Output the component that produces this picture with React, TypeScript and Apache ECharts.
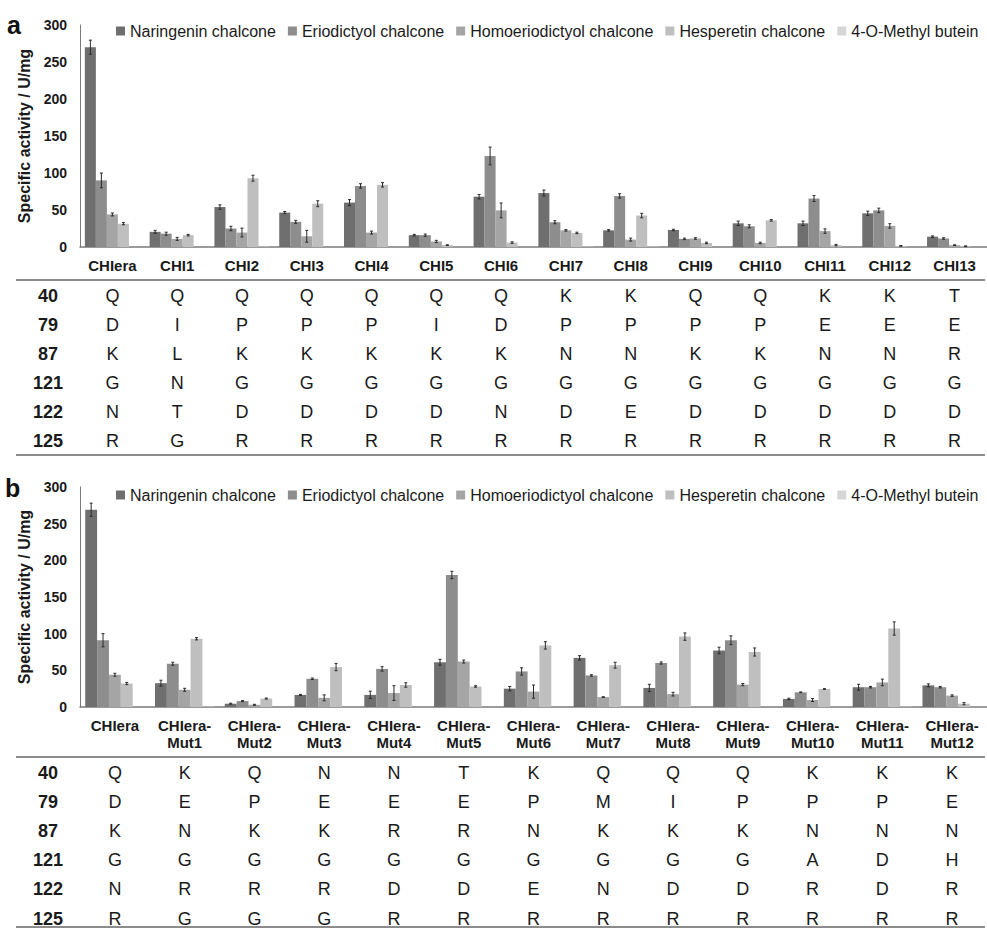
import React, { useEffect, useRef } from "react";
import * as echarts from "echarts";

const FONT = "'Liberation Sans', Arial, Helvetica, sans-serif";

const seriesNames = [
  "Naringenin chalcone",
  "Eriodictyol chalcone",
  "Homoeriodictyol chalcone",
  "Hesperetin chalcone",
  "4-O-Methyl butein",
];
const seriesColors = ["#6f6f6f", "#8d8d8d", "#a5a5a5", "#bfbfbf", "#d6d6d6"];

// ---------- Panel a ----------
const aCategories = ["CHIera", "CHI1", "CHI2", "CHI3", "CHI4", "CHI5", "CHI6", "CHI7", "CHI8", "CHI9", "CHI10", "CHI11", "CHI12", "CHI13"];
const aNaringenin = [270, 20.5, 54, 46.5, 60, 16, 68, 73, 22.5, 23, 32, 32, 45.5, 14];
const aEriodictyol = [90, 18, 25, 34, 82.5, 16, 123, 33.5, 69, 11, 28, 65.5, 49.5, 11.5];
const aHomoeriodictyol = [44, 11, 19.5, 14.5, 19.5, 7.5, 49.5, 22.5, 10, 11.5, 5.5, 21.5, 28.5, 2.5];
const aHesperetin = [31.5, 16, 93, 58.5, 84, 2.5, 6, 19, 42.5, 5.5, 36, 2.5, 1.5, 1];
const aMethylButein = [0, 0, 0.5, 0, 0, 0, 0, 0.5, 0.5, 0, 0, 0, 0, 0];
const aNaringeninErr = [9.5, 2, 3, 1.5, 4, 1, 3, 4, 1, 1, 3, 3, 3, 1];
const aEriodictyolErr = [10, 2, 3, 2, 3, 1.5, 12, 2, 3, 1, 2, 4, 3, 1];
const aHomoeriodictyolErr = [2, 2, 6, 8, 2, 1.5, 10, 1, 2, 1, 1, 3, 3, 0.5];
const aHesperetinErr = [1.5, 1, 4, 4, 3, 0.5, 1, 1, 3, 1, 1, 1, 0.5, 0.5];
const aMethylButeinErr = [0, 0, 0, 0, 0, 0, 0, 0, 0, 0, 0, 0, 0, 0];

const aPositions = ["40", "79", "87", "121", "122", "125"];
const aRes40 = ["Q", "Q", "Q", "Q", "Q", "Q", "Q", "K", "K", "Q", "Q", "K", "K", "T"];
const aRes79 = ["D", "I", "P", "P", "P", "I", "D", "P", "P", "P", "P", "E", "E", "E"];
const aRes87 = ["K", "L", "K", "K", "K", "K", "K", "N", "N", "K", "K", "N", "N", "R"];
const aRes121 = ["G", "N", "G", "G", "G", "G", "G", "G", "G", "G", "G", "G", "G", "G"];
const aRes122 = ["N", "T", "D", "D", "D", "D", "N", "D", "E", "D", "D", "D", "D", "D"];
const aRes125 = ["R", "G", "R", "R", "R", "R", "R", "R", "R", "R", "R", "R", "R", "R"];

// ---------- Panel b ----------
const bCategories = ["CHIera", "CHIera-\nMut1", "CHIera-\nMut2", "CHIera-\nMut3", "CHIera-\nMut4", "CHIera-\nMut5", "CHIera-\nMut6", "CHIera-\nMut7", "CHIera-\nMut8", "CHIera-\nMut9", "CHIera-\nMut10", "CHIera-\nMut11", "CHIera-\nMut12"];
const bNaringenin = [269, 32.5, 4.5, 16.5, 16.5, 61, 25, 67, 26, 77, 11, 27, 29.5];
const bEriodictyol = [91, 59, 8, 38.5, 52, 180, 48.5, 43, 60, 91, 20, 27, 27];
const bHomoeriodictyol = [44, 23.5, 3, 12.5, 19, 62, 21, 13.5, 17.5, 30.5, 9.5, 33.5, 15.5];
const bHesperetin = [32, 93, 11.5, 54.5, 30, 28, 84, 57, 96, 75, 24.5, 107, 4.5];
const bMethylButein = [0, 0.5, 0, 0, 0, 0, 0, 0, 0, 0, 0, 0.5, 0];
const bNaringeninErr = [9, 4, 0.7, 0.7, 5, 4, 3, 3, 5, 4.5, 1, 4, 2];
const bEriodictyolErr = [9, 2, 0.7, 1, 3, 5, 5, 1, 1.5, 6, 0.5, 1, 1];
const bHomoeriodictyolErr = [2, 2, 0.7, 4, 10, 2, 9, 0.5, 2.5, 1.5, 2, 4.5, 1];
const bHesperetinErr = [1.5, 1.5, 0.7, 5, 3, 1, 5, 4, 5, 5.5, 0.5, 9, 1.5];
const bMethylButeinErr = [0, 0, 0, 0, 0, 0, 0, 0, 0, 0, 0, 0, 0];

const bPositions = ["40", "79", "87", "121", "122", "125"];
const bRes40 = ["Q", "K", "Q", "N", "N", "T", "K", "Q", "Q", "Q", "K", "K", "K"];
const bRes79 = ["D", "E", "P", "E", "E", "E", "P", "M", "I", "P", "P", "P", "E"];
const bRes87 = ["K", "N", "K", "K", "R", "R", "N", "K", "K", "K", "N", "N", "N"];
const bRes121 = ["G", "G", "G", "G", "G", "G", "G", "G", "G", "G", "A", "D", "H"];
const bRes122 = ["N", "R", "R", "R", "D", "D", "E", "N", "D", "D", "R", "D", "R"];
const bRes125 = ["R", "G", "G", "G", "R", "R", "R", "R", "R", "R", "R", "R", "R"];

const yTicks = [0, 50, 100, 150, 200, 250, 300];

// ---------- layout ----------
const GRID_LEFT = 80;
const GRID_WIDTH = 907;
const A_TOP = 25, A_H = 222;
const B_TOP = 487, B_H = 220;
const ROW_STEP = 29.1;
const A_ROW0 = 295.5;
const B_ROW0 = 773;
const CAT_GAP = 0.15;

function App() {
  const ref = useRef<HTMLDivElement>(null);

  useEffect(() => {
    if (!ref.current) return;
    const chart = echarts.init(ref.current, null, { renderer: "svg" });

    const aVals = [aNaringenin, aEriodictyol, aHomoeriodictyol, aHesperetin, aMethylButein];
    const aErrs = [aNaringeninErr, aEriodictyolErr, aHomoeriodictyolErr, aHesperetinErr, aMethylButeinErr];
    const bVals = [bNaringenin, bEriodictyol, bHomoeriodictyol, bHesperetin, bMethylButein];
    const bErrs = [bNaringeninErr, bEriodictyolErr, bHomoeriodictyolErr, bHesperetinErr, bMethylButeinErr];
    const aRows = [aRes40, aRes79, aRes87, aRes121, aRes122, aRes125];
    const bRows = [bRes40, bRes79, bRes87, bRes121, bRes122, bRes125];

    const errData = (vals: number[][], errs: number[][]) => {
      const out: number[][] = [];
      vals.forEach((arr, s) =>
        arr.forEach((v, i) => {
          if (errs[s][i] > 0) out.push([i, s, v, errs[s][i]]);
        })
      );
      return out;
    };

    const renderErr = (params: any, api: any) => {
      const ci = api.value(0);
      const si = api.value(1);
      const v = api.value(2);
      const e = api.value(3);
      const band = api.size([1, 0])[0];
      const bw = (band * (1 - CAT_GAP)) / 5;
      const c = api.coord([ci, v]);
      const x = c[0] + (si - 2) * bw;
      const yt = api.coord([ci, v + e])[1];
      const yb = api.coord([ci, Math.max(v - e, 0)])[1];
      const st = { stroke: "#2a2a2a", lineWidth: 1 };
      return {
        type: "group",
        children: [
          { type: "line", shape: { x1: x, y1: yt, x2: x, y2: yb }, style: st },
          { type: "line", shape: { x1: x - 1.5, y1: yt, x2: x + 1.5, y2: yt }, style: st },
          { type: "line", shape: { x1: x - 1.5, y1: yb, x2: x + 1.5, y2: yb }, style: st },
        ],
      };
    };

    const xAxes: any[] = [];
    const mainX = (grid: number, data: string[], lh: number) => ({
      type: "category",
      gridIndex: grid,
      data,
      position: "bottom",
      axisLine: { show: true, lineStyle: { color: "#7a7a7a", width: 1.5 } },
      axisTick: { show: false },
      axisLabel: {
        interval: 0,
        margin: 10,
        fontSize: 15,
        fontWeight: "bold",
        fontFamily: FONT,
        color: "#1a1a1a",
        lineHeight: lh,
      },
    });
    const rowX = (grid: number, data: string[], offset: number) => ({
      type: "category",
      gridIndex: grid,
      data,
      position: "bottom",
      offset,
      axisLine: { show: false },
      axisTick: { show: false },
      axisLabel: {
        interval: 0,
        margin: 0,
        fontSize: 18,
        fontFamily: FONT,
        color: "#1a1a1a",
      },
    });
    xAxes.push(mainX(0, aCategories, 17));
    aRows.forEach((r, k) => xAxes.push(rowX(0, r, A_ROW0 + k * ROW_STEP - 9 - (A_TOP + A_H))));
    const bMainIdx = xAxes.length;
    xAxes.push(mainX(1, bCategories, 17));
    bRows.forEach((r, k) => xAxes.push(rowX(1, r, B_ROW0 + k * ROW_STEP - 9 - (B_TOP + B_H))));

    const yAxis = (grid: number) => ({
      type: "value",
      gridIndex: grid,
      min: yTicks[0],
      max: yTicks[yTicks.length - 1],
      interval: yTicks[1] - yTicks[0],
      name: "Specific activity / U/mg",
      nameLocation: "middle",
      nameGap: 40,
      nameTextStyle: { fontSize: 16, fontWeight: "bold", fontFamily: FONT, color: "#1a1a1a" },
      axisLine: { show: true, lineStyle: { color: "#7a7a7a", width: 1 } },
      axisTick: { show: false },
      splitLine: { show: false },
      axisLabel: { fontSize: 14, fontWeight: "bold", fontFamily: FONT, color: "#1a1a1a", margin: 13 },
    });

    const series: any[] = [];
    seriesNames.forEach((n, s) => {
      series.push({
        type: "bar",
        name: n,
        xAxisIndex: 0,
        yAxisIndex: 0,
        data: aVals[s],
        itemStyle: { color: seriesColors[s] },
        barGap: "0%",
        barCategoryGap: CAT_GAP * 100 + "%",
      });
    });
    series.push({
      type: "custom",
      xAxisIndex: 0,
      yAxisIndex: 0,
      data: errData(aVals, aErrs),
      encode: { x: 0, y: 2 },
      renderItem: renderErr,
      z: 5,
    });
    seriesNames.forEach((n, s) => {
      series.push({
        type: "bar",
        name: n,
        xAxisIndex: bMainIdx,
        yAxisIndex: 1,
        data: bVals[s],
        itemStyle: { color: seriesColors[s] },
        barGap: "0%",
        barCategoryGap: CAT_GAP * 100 + "%",
      });
    });
    series.push({
      type: "custom",
      xAxisIndex: bMainIdx,
      yAxisIndex: 1,
      data: errData(bVals, bErrs),
      encode: { x: 0, y: 2 },
      renderItem: renderErr,
      z: 5,
    });

    const legendCfg = (top: number) => ({
      top,
      left: 116,
      width: 871,
      padding: 0,
      data: seriesNames,
      icon: "rect",
      itemWidth: 9,
      itemHeight: 9,
      itemGap: 12,
      selectedMode: false,
      textStyle: { fontSize: 16, fontFamily: FONT, color: "#1a1a1a" },
    });

    const graphics: any[] = [];
    const hline = (y: number) => ({
      type: "line",
      shape: { x1: 16, y1: y, x2: 985, y2: y },
      style: { stroke: "#8c8c8c", lineWidth: 2 },
    });
    graphics.push(hline(280), hline(455), hline(757), hline(927));
    aPositions.forEach((p, k) =>
      graphics.push({
        type: "text",
        x: 48,
        y: A_ROW0 + k * ROW_STEP,
        style: { text: p, fontSize: 18, fontWeight: "bold", fontFamily: FONT, fill: "#1a1a1a", align: "center", verticalAlign: "middle" },
      })
    );
    bPositions.forEach((p, k) =>
      graphics.push({
        type: "text",
        x: 48,
        y: B_ROW0 + k * ROW_STEP,
        style: { text: p, fontSize: 18, fontWeight: "bold", fontFamily: FONT, fill: "#1a1a1a", align: "center", verticalAlign: "middle" },
      })
    );
    graphics.push({
      type: "text",
      x: 7,
      y: 25,
      style: { text: "a", fontSize: 25, fontWeight: "bold", fontFamily: FONT, fill: "#111", verticalAlign: "middle" },
    });
    graphics.push({
      type: "text",
      x: 5,
      y: 488,
      style: { text: "b", fontSize: 25, fontWeight: "bold", fontFamily: FONT, fill: "#111", verticalAlign: "middle" },
    });

    chart.setOption({
      animation: false,
      backgroundColor: "#ffffff",
      grid: [
        { left: GRID_LEFT, top: A_TOP, width: GRID_WIDTH, height: A_H },
        { left: GRID_LEFT, top: B_TOP, width: GRID_WIDTH, height: B_H },
      ],
      legend: [legendCfg(A_TOP - 2), legendCfg(B_TOP)],
      xAxis: xAxes,
      yAxis: [yAxis(0), yAxis(1)],
      series,
      graphic: graphics,
    });

    return () => chart.dispose();
  }, []);

  return (
    <div
      ref={ref}
      style={{ position: "absolute", left: 0, top: 0, width: 987, height: 928 }}
    />
  );
}

export default App;
